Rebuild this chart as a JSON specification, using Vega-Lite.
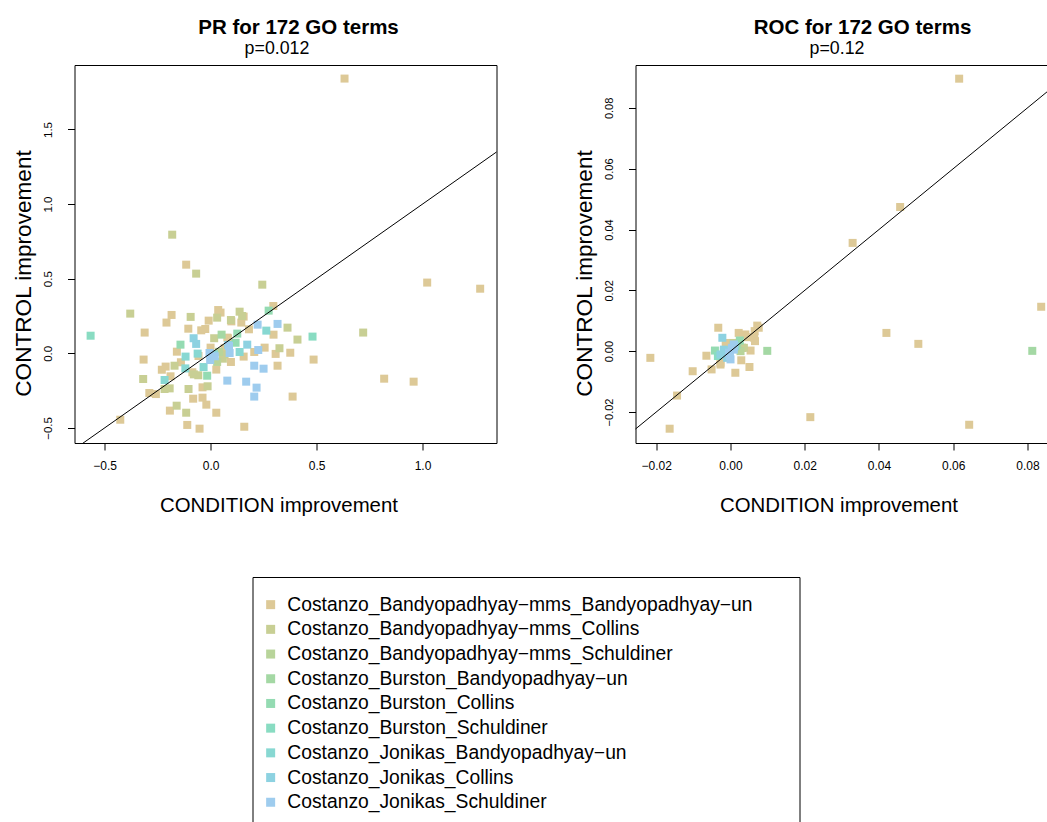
{
  "$schema": "https://vega.github.io/schema/vega-lite/v6.json",
  "padding": {"left": 11.5, "top": 17, "right": 0, "bottom": 0},
  "background": "white",
  "config": {
    "font": "Liberation Sans",
    "view": {"stroke": "black", "strokeWidth": 1},
    "axis": {"grid": false, "domainColor": "black", "tickColor": "black", "labelColor": "black", "titleColor": "black", "labelFont": "Liberation Sans", "titleFont": "Liberation Sans", "titleFontWeight": "normal", "tickSize": 7, "labelFontSize": 12, "titleFontSize": 20.4},
    "title": {"font": "Liberation Sans", "color": "black"}
  },
  "datasets": {
    "groups": [
      {"k": 1, "combo": "Costanzo_Bandyopadhyay−mms_Bandyopadhyay−un"},
      {"k": 2, "combo": "Costanzo_Bandyopadhyay−mms_Collins"},
      {"k": 3, "combo": "Costanzo_Bandyopadhyay−mms_Schuldiner"},
      {"k": 4, "combo": "Costanzo_Burston_Bandyopadhyay−un"},
      {"k": 5, "combo": "Costanzo_Burston_Collins"},
      {"k": 6, "combo": "Costanzo_Burston_Schuldiner"},
      {"k": 7, "combo": "Costanzo_Jonikas_Bandyopadhyay−un"},
      {"k": 8, "combo": "Costanzo_Jonikas_Collins"},
      {"k": 9, "combo": "Costanzo_Jonikas_Schuldiner"}
    ],
    "pr": [
      {"k":1,"x":0.632,"y":1.841},{"k":1,"x":-0.115,"y":0.594},{"k":1,"x":1.022,"y":0.474},{"k":1,"x":1.272,"y":0.433},
      {"k":1,"x":0.296,"y":0.317},{"k":1,"x":-0.184,"y":0.257},{"k":1,"x":-0.208,"y":0.206},{"k":1,"x":0.036,"y":0.290},
      {"k":1,"x":0.047,"y":0.273},{"k":1,"x":-0.009,"y":0.219},{"k":1,"x":0.156,"y":0.246},{"k":1,"x":0.145,"y":0.206},
      {"k":1,"x":-0.105,"y":0.165},{"k":1,"x":-0.044,"y":0.154},{"k":1,"x":-0.025,"y":0.163},{"k":1,"x":-0.311,"y":0.139},
      {"k":1,"x":0.181,"y":0.161},{"k":1,"x":0.297,"y":0.125},{"k":1,"x":-0.159,"y":0.011},{"k":1,"x":0.066,"y":0.034},
      {"k":1,"x":0.156,"y":-0.022},{"k":1,"x":0.206,"y":0.009},{"k":1,"x":0.255,"y":0.038},{"k":1,"x":0.307,"y":-0.004},
      {"k":1,"x":0.376,"y":0.004},{"k":1,"x":0.486,"y":-0.042},{"k":1,"x":0.096,"y":-0.058},{"k":1,"x":0.316,"y":-0.083},
      {"k":1,"x":-0.316,"y":-0.042},{"k":1,"x":-0.212,"y":-0.089},{"k":1,"x":-0.086,"y":-0.127},{"k":1,"x":0.027,"y":-0.109},
      {"k":1,"x":-0.189,"y":-0.154},{"k":1,"x":-0.038,"y":-0.228},{"k":1,"x":0.387,"y":-0.290},{"k":1,"x":0.819,"y":-0.170},
      {"k":1,"x":0.958,"y":-0.190},{"k":1,"x":-0.289,"y":-0.266},{"k":1,"x":-0.258,"y":-0.273},{"k":1,"x":-0.082,"y":-0.304},
      {"k":1,"x":-0.038,"y":-0.297},{"k":1,"x":-0.192,"y":-0.384},{"k":1,"x":-0.020,"y":-0.344},{"k":1,"x":0.027,"y":-0.398},
      {"k":1,"x":-0.426,"y":-0.445},{"k":1,"x":-0.110,"y":-0.480},{"k":1,"x":-0.052,"y":-0.505},{"k":1,"x":0.159,"y":-0.492},
      {"k":1,"x":0.098,"y":0.214},{"k":1,"x":0.082,"y":0.100},{"k":1,"x":-0.057,"y":-0.018},{"k":1,"x":0.000,"y":0.038},
      {"k":1,"x":0.079,"y":0.105},{"k":1,"x":-0.140,"y":-0.060},{"k":1,"x":-0.230,"y":-0.110},
      {"k":2,"x":-0.181,"y":0.795},{"k":2,"x":-0.068,"y":0.534},{"k":2,"x":0.244,"y":0.460},{"k":2,"x":-0.379,"y":0.266},
      {"k":2,"x":-0.094,"y":0.244},{"k":2,"x":0.031,"y":0.239},{"k":2,"x":0.096,"y":0.223},{"k":2,"x":0.137,"y":0.279},
      {"k":2,"x":0.149,"y":0.250},{"k":2,"x":0.363,"y":0.172},{"k":2,"x":0.410,"y":0.092},{"k":2,"x":0.720,"y":0.139},
      {"k":2,"x":0.017,"y":0.101},{"k":2,"x":0.058,"y":-0.036},{"k":2,"x":0.325,"y":0.034},{"k":2,"x":-0.170,"y":-0.083},
      {"k":2,"x":-0.058,"y":-0.147},{"k":2,"x":-0.318,"y":-0.172},{"k":2,"x":-0.193,"y":-0.235},{"k":2,"x":-0.217,"y":-0.239},
      {"k":2,"x":-0.104,"y":-0.239},{"k":2,"x":-0.014,"y":-0.221},{"k":2,"x":-0.160,"y":-0.351},{"k":2,"x":-0.115,"y":-0.398},
      {"k":2,"x":0.066,"y":-0.007},{"k":2,"x":-0.079,"y":-0.141},
      {"k":3,"x":0.031,"y":-0.058},{"k":3,"x":0.040,"y":0.010},
      {"k":4,"x":0.052,"y":0.125},
      {"k":5,"x":0.274,"y":0.286},{"k":5,"x":0.126,"y":0.132},{"k":5,"x":-0.142,"y":0.058},{"k":5,"x":0.118,"y":0.071},{"k":5,"x":-0.016,"y":-0.150},
      {"k":6,"x":-0.566,"y":0.118},{"k":6,"x":0.481,"y":0.112},
      {"k":7,"x":0.263,"y":0.152},{"k":7,"x":-0.118,"y":-0.022},{"k":7,"x":-0.061,"y":-0.002},{"k":7,"x":0.016,"y":-0.007},
      {"k":7,"x":0.137,"y":0.009},{"k":7,"x":-0.119,"y":-0.101},{"k":7,"x":-0.033,"y":-0.092},{"k":7,"x":-0.217,"y":-0.179},
      {"k":8,"x":-0.080,"y":0.101},{"k":8,"x":-0.068,"y":0.063},{"k":8,"x":0.083,"y":0.056},{"k":8,"x":0.173,"y":0.058},
      {"k":9,"x":0.222,"y":0.192},{"k":9,"x":0.316,"y":0.197},{"k":9,"x":-0.005,"y":0.002},{"k":9,"x":-0.002,"y":-0.045},
      {"k":9,"x":0.090,"y":0.002},{"k":9,"x":0.225,"y":0.022},{"k":9,"x":0.206,"y":-0.083},{"k":9,"x":0.250,"y":-0.103},
      {"k":9,"x":0.079,"y":-0.183},{"k":9,"x":0.168,"y":-0.190},{"k":9,"x":0.217,"y":-0.230},{"k":9,"x":0.206,"y":-0.290},
      {"k":9,"x":0.087,"y":0.049},{"k":9,"x":0.020,"y":-0.020}
    ],
    "roc": [
      {"k":1,"x":0.0616,"y":0.0896},{"k":1,"x":0.0457,"y":0.0474},{"k":1,"x":0.0329,"y":0.0356},{"k":1,"x":0.0837,"y":0.0146},
      {"k":1,"x":0.0420,"y":0.0060},{"k":1,"x":0.0506,"y":0.0024},{"k":1,"x":0.0215,"y":-0.0217},{"k":1,"x":0.0643,"y":-0.0242},
      {"k":1,"x":-0.0216,"y":-0.0022},{"k":1,"x":-0.0144,"y":-0.0146},{"k":1,"x":-0.0164,"y":-0.0255},{"k":1,"x":-0.0102,"y":-0.0066},
      {"k":1,"x":-0.0065,"y":-0.0015},{"k":1,"x":-0.0051,"y":-0.0060},{"k":1,"x":-0.0033,"y":0.0077},{"k":1,"x":-0.0027,"y":-0.0038},
      {"k":1,"x":0.0013,"y":-0.0071},{"k":1,"x":0.0051,"y":-0.0052},{"k":1,"x":0.0029,"y":-0.0030},{"k":1,"x":0.0072,"y":0.0084},
      {"k":1,"x":0.0076,"y":0.0077},{"k":1,"x":0.0022,"y":0.0060},{"k":1,"x":0.0065,"y":0.0066},{"k":1,"x":0.0066,"y":0.0033},
      {"k":1,"x":0.0054,"y":0.0002},{"k":1,"x":0.0045,"y":0.0046},{"k":1,"x":-0.0013,"y":0.0027},{"k":1,"x":0.0031,"y":0.0011},
      {"k":1,"x":0.0064,"y":0.0044},{"k":1,"x":0.0040,"y":0.0055},{"k":1,"x":-0.0027,"y":-0.0044},
      {"k":2,"x":0.0007,"y":0.0027},{"k":2,"x":0.0036,"y":0.0011},{"k":2,"x":0.0031,"y":0.0011},
      {"k":3,"x":0.0027,"y":0.0000},
      {"k":4,"x":0.0813,"y":0.0001},{"k":4,"x":0.0099,"y":0.0001},{"k":4,"x":0.0018,"y":0.0022},
      {"k":5,"x":0.0025,"y":0.0035},{"k":5,"x":-0.0042,"y":0.0002},
      {"k":6,"x":-0.0034,"y":-0.0016},
      {"k":7,"x":0.0013,"y":0.0016},{"k":7,"x":-0.0018,"y":0.0000},
      {"k":8,"x":-0.0022,"y":0.0044},{"k":8,"x":-0.0009,"y":-0.0022},{"k":8,"x":-0.0027,"y":-0.0011},{"k":8,"x":-0.0018,"y":0.0005},
      {"k":9,"x":-0.0002,"y":-0.0011},{"k":9,"x":0.0004,"y":0.0011},{"k":9,"x":-0.0004,"y":-0.0005},{"k":9,"x":0.0009,"y":0.0005},
      {"k":9,"x":0.0000,"y":-0.0027},{"k":9,"x":-0.0002,"y":-0.0016},{"k":9,"x":0.0009,"y":0.0022}
    ],
    "diagPR": [{"x": -1, "y": -1}, {"x": 3, "y": 3}],
    "diagROC": [{"x": -0.1, "y": -0.1}, {"x": 0.2, "y": 0.2}]
  },
  "spacing": 76,
  "hconcat": [
    {
      "width": 422,
      "height": 378,
      "title": {"text": "PR for 172 GO terms", "fontSize": 20.5, "fontWeight": "bold", "dx": 13, "offset": 1},
      "layer": [
        {
          "data": {"name": "pr"},
          "transform": [{"lookup": "k", "from": {"data": {"name": "groups"}, "key": "k", "fields": ["combo"]}}],
          "mark": {"type": "point", "shape": "square", "filled": true, "size": 64, "opacity": 1, "strokeWidth": 0},
          "encoding": {
            "x": {"field": "x", "type": "quantitative", "scale": {"domain": [-0.642, 1.349], "nice": false, "zero": false},
                  "axis": {"values": [-0.5, 0, 0.5, 1], "format": ".1f", "domain": false, "title": "CONDITION improvement", "labelPadding": 10, "titlePadding": 24, "titleX": 204}},
            "y": {"field": "y", "type": "quantitative", "scale": {"domain": [-0.601, 1.932], "nice": false, "zero": false},
                  "axis": {"values": [-0.5, 0, 0.5, 1, 1.5], "format": ".1f", "labelAngle": -90, "labelFontSize": 11.5, "domain": false, "title": "CONTROL improvement", "titleFontSize": 22.6, "labelPadding": 14, "titlePadding": 7, "titleY": 208}},
            "color": {"field": "combo", "type": "nominal",
                      "scale": {"domain": ["Costanzo_Bandyopadhyay−mms_Bandyopadhyay−un", "Costanzo_Bandyopadhyay−mms_Collins", "Costanzo_Bandyopadhyay−mms_Schuldiner", "Costanzo_Burston_Bandyopadhyay−un", "Costanzo_Burston_Collins", "Costanzo_Burston_Schuldiner", "Costanzo_Jonikas_Bandyopadhyay−un", "Costanzo_Jonikas_Collins", "Costanzo_Jonikas_Schuldiner"],
                                "range": ["#DDC997", "#C8CF94", "#B8D49A", "#A4D8A4", "#94DBB2", "#89DCC2", "#88D8D2", "#8DD2E1", "#9ECCEE"]},
                      "legend": {"orient": "none", "legendX": 178, "legendY": 512, "title": "\u00a0", "titleOrient": "right", "titlePadding": 29, "titleFontSize": 10,
                                 "strokeColor": "black", "padding": 18, "symbolType": "square", "symbolSize": 81, "symbolStrokeWidth": 0, "symbolOpacity": 1, "symbolOffset": -9.5,
                                 "labelFont": "Liberation Sans", "labelFontSize": 19.3, "labelColor": "black", "labelOffset": 7, "rowPadding": 4.7, "labelLimit": 1000, "columns": 1}}
          }
        },
        {
          "data": {"name": "diagPR"},
          "mark": {"type": "line", "color": "black", "strokeWidth": 1, "clip": true},
          "encoding": {
            "x": {"field": "x", "type": "quantitative", "scale": {"domain": [-0.642, 1.349], "nice": false, "zero": false},
                  "axis": {"orient": "top", "title": "p=0.012", "labels": false, "ticks": false, "domain": false, "titleFontSize": 17.8, "titlePadding": 7.5, "titleX": 202}},
            "y": {"field": "y", "type": "quantitative", "scale": {"domain": [-0.601, 1.932], "nice": false, "zero": false}}
          }
        }
      ],
      "resolve": {"axis": {"x": "independent"}}
    },
    {
      "width": 412,
      "height": 378,
      "view": {"stroke": null},
      "title": {"text": "ROC for 172 GO terms", "fontSize": 20.5, "fontWeight": "bold", "dx": 21, "offset": 1},
      "layer": [
        {
          "data": {"name": "roc"},
          "transform": [{"lookup": "k", "from": {"data": {"name": "groups"}, "key": "k", "fields": ["combo"]}}],
          "mark": {"type": "point", "shape": "square", "filled": true, "size": 64, "opacity": 1, "strokeWidth": 0},
          "encoding": {
            "x": {"field": "x", "type": "quantitative", "scale": {"domain": [-0.0256, 0.0854], "nice": false, "zero": false},
                  "axis": {"values": [-0.02, 0, 0.02, 0.04, 0.06, 0.08], "format": ".2f", "domain": true, "title": "CONDITION improvement", "labelPadding": 10, "titlePadding": 24, "titleX": 203}},
            "y": {"field": "y", "type": "quantitative", "scale": {"domain": [-0.0302, 0.0941], "nice": false, "zero": false},
                  "axis": {"values": [-0.02, 0, 0.02, 0.04, 0.06, 0.08], "format": ".2f", "labelAngle": -90, "labelFontSize": 11, "domain": true, "title": "CONTROL improvement", "titleFontSize": 22.6, "labelPadding": 14, "titlePadding": 7, "titleY": 208}},
            "color": {"field": "combo", "type": "nominal"}
          }
        },
        {
          "data": {"name": "diagROC"},
          "mark": {"type": "line", "color": "black", "strokeWidth": 1, "clip": true},
          "encoding": {
            "x": {"field": "x", "type": "quantitative", "scale": {"domain": [-0.0256, 0.0854], "nice": false, "zero": false},
                  "axis": {"orient": "top", "title": "p=0.12", "labels": false, "ticks": false, "domain": true, "titleFontSize": 17.8, "titlePadding": 7.5, "titleX": 201}},
            "y": {"field": "y", "type": "quantitative", "scale": {"domain": [-0.0302, 0.0941], "nice": false, "zero": false}}
          }
        }
      ],
      "resolve": {"axis": {"x": "independent"}}
    }
  ]
}
